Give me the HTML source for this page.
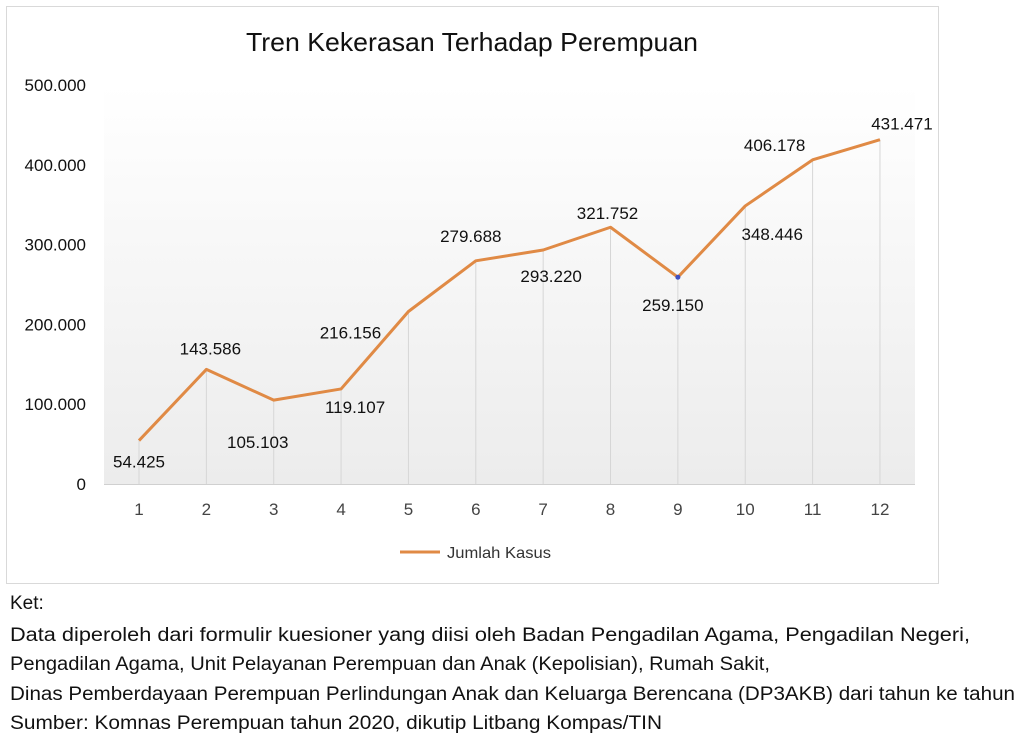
<!DOCTYPE html>
<html><head><meta charset="utf-8"><style>
body{margin:0;background:#fff;width:1024px;height:745px;overflow:hidden}
svg{display:block;font-family:"Liberation Sans",sans-serif}
</style></head><body>
<svg width="1024" height="745" viewBox="0 0 1024 745">
<defs><linearGradient id="bg" x1="0" y1="0" x2="0" y2="1"><stop offset="0" stop-color="#ffffff"/><stop offset="1" stop-color="#ececec"/></linearGradient></defs>
<rect x="6.5" y="6.5" width="932" height="577" fill="#fff" stroke="#d9d9d9"/>
<text x="472" y="51" font-size="26" text-anchor="middle" fill="#111" textLength="452" lengthAdjust="spacingAndGlyphs">Tren Kekerasan Terhadap Perempuan</text>
<rect x="104" y="85" width="811" height="399" fill="url(#bg)"/>
<g id="yt"></g><g id="xt"></g><g id="drops"></g><g id="line"></g><g id="lbls"></g>
<line x1="400" y1="552" x2="440" y2="552" stroke="#e08a45" stroke-width="3"/>
<text x="447" y="558" font-size="16" fill="#333" textLength="104" lengthAdjust="spacingAndGlyphs">Jumlah Kasus</text>
<g font-size="19" fill="#111">
<text x="10" y="609">Ket:</text>
<text x="10" y="641" textLength="960" lengthAdjust="spacingAndGlyphs">Data diperoleh dari formulir kuesioner yang diisi oleh Badan Pengadilan Agama, Pengadilan Negeri,</text>
<text x="10" y="670" textLength="760" lengthAdjust="spacingAndGlyphs">Pengadilan Agama, Unit Pelayanan Perempuan dan Anak (Kepolisian), Rumah Sakit,</text>
<text x="10" y="700" textLength="1005" lengthAdjust="spacingAndGlyphs">Dinas Pemberdayaan Perempuan Perlindungan Anak dan Keluarga Berencana (DP3AKB) dari tahun ke tahun</text>
<text x="10" y="729" textLength="652" lengthAdjust="spacingAndGlyphs">Sumber: Komnas Perempuan tahun 2020, dikutip Litbang Kompas/TIN</text>
</g>
</svg>
<script>
const categories=["1","2","3","4","5","6","7","8","9","10","11","12"];
const values=[54425,143586,105103,119107,216156,279688,293220,321752,259150,348446,406178,431471];
const valueLabels=["54.425","143.586","105.103","119.107","216.156","279.688","293.220","321.752","259.150","348.446","406.178","431.471"];
const yTicks=[0,100000,200000,300000,400000,500000];
const yTickLabels=["0","100.000","200.000","300.000","400.000","500.000"];
const labelDx=[0,4,-16,14,-58,-5,8,-3,-5,27,-38,22];
const labelDy=[27,-15,48,24,27,-19,32,-8,34,34,-9,-10];
const NS="http://www.w3.org/2000/svg";
const x=i=>139+i*67.36;
const y=v=>484-v/500000*399;
function mk(tag,attrs,parent,txt){const e=document.createElementNS(NS,tag);for(const k in attrs)e.setAttribute(k,attrs[k]);if(txt!==undefined)e.textContent=txt;parent.appendChild(e);return e;}
const yt=document.getElementById('yt'),xt=document.getElementById('xt'),dr=document.getElementById('drops'),ln=document.getElementById('line'),lb=document.getElementById('lbls');
yTicks.forEach((t,i)=>{const e=mk('text',{x:86,y:y(t)+6,'font-size':17,'text-anchor':'end',fill:'#111'},yt,yTickLabels[i]);

});
mk('line',{x1:104,y1:484.5,x2:915,y2:484.5,stroke:'#d0d0d0'},xt);
categories.forEach((c,i)=>{const e=mk('text',{x:x(i),y:515,'font-size':17,'text-anchor':'middle',fill:'#444'},xt,c);


const d=mk('line',{x1:x(i),y1:y(values[i]),x2:x(i),y2:484,stroke:'#d6d6d6'},dr);

});
const p=mk('polyline',{points:values.map((v,i)=>x(i)+','+y(v)).join(' '),fill:'none',stroke:'#e08a45','stroke-width':3,'stroke-linejoin':'round'},ln);


const dot=mk('circle',{cx:x(8),cy:y(values[8]),r:2.5,fill:'#4050c0'},ln);


values.forEach((v,i)=>{const e=mk('text',{x:x(i)+labelDx[i],y:y(v)+labelDy[i],'font-size':17,'text-anchor':'middle',fill:'#111'},lb,valueLabels[i]);

});
</script>
</body></html>
